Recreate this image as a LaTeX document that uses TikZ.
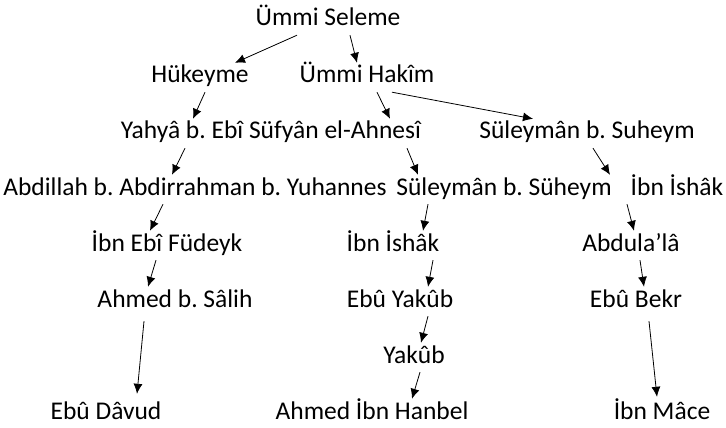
\documentclass[tikz,border=0pt]{standalone}
\usepackage{fontspec}
\setmainfont{Carlito}
\usetikzlibrary{arrows.meta}
\frenchspacing

\begin{document}
\begin{tikzpicture}[
x=1pt, y=-1pt,
narrator/.style={
		anchor=base,
		inner sep=3pt,
		text height=17pt,
		text depth=6pt,
		font=\fontsize{25.5}{30}\selectfont,
		},
link/.style={
		->, >={Latex[length=10pt,width=9pt]},
		line width=0.8pt,
		}
]
\useasboundingbox (0,0) rectangle (726,428);

\node[narrator] (sel) at (328,26) {Ümmi Seleme};

\node[narrator] (huk) at (200,83) {Hükeyme};
\node[narrator] (hak) at (367,83) {Ümmi Hakîm};

\node[narrator] (yah) at (271,139) {Yahyâ b. Ebî Süfyân el-Ahnesî};
\node[narrator] (sul1) at (587,139) {Süleymân b. Suheym};

\node[narrator] (abd) at (195,195) {Abdillah b. Abdirrahman b. Yuhannes};
\node[narrator] (sul2) at (504,195) {Süleymân b. Süheym};
\node[narrator] (ish1) at (677,195) {İbn İshâk};

\node[narrator] (fud) at (167,251) {İbn Ebî Füdeyk};
\node[narrator] (ish2) at (393,251) {İbn İshâk};
\node[narrator] (ala) at (631,251) {Abdula’lâ};

\node[narrator] (sal) at (175,307) {Ahmed b. Sâlih};
\node[narrator] (yak1) at (400,307) {Ebû Yakûb};
\node[narrator] (bek) at (636,307) {Ebû Bekr};

\node[narrator] (yak2) at (414,363) {Yakûb};

\node[narrator] (dav) at (106,419) {Ebû Dâvud};
\node[narrator] (han) at (372,419) {Ahmed İbn Hanbel};
\node[narrator] (mac) at (662,419) {İbn Mâce};

% links
\draw[link] ([xshift=-31pt]sel.south) -- ([xshift=35pt]huk.north);
\draw[link] ([xshift=22pt]sel.south) -- ([xshift=-10pt]hak.north);
\draw[link] ([xshift=5pt]huk.south) -- ([xshift=-78pt]yah.north);
\draw[link] ([xshift=10pt]hak.south) -- ([xshift=119pt]yah.north);
\draw[link] ([xshift=25pt]hak.south) -- ([xshift=-54pt]sul1.north);
\draw[link] ([xshift=-86pt]yah.south) -- ([xshift=-23pt]abd.north);
\draw[link] ([xshift=136pt]yah.south) -- ([xshift=-86pt]sul2.north);
\draw[link] ([xshift=6pt]sul1.south) -- ([xshift=-67pt]ish1.north);
\draw[link] ([xshift=-32pt]abd.south) -- ([xshift=-17pt]fud.north);
\draw[link] ([xshift=-76pt]sul2.south) -- ([xshift=30pt]ish2.north);
\draw[link] ([xshift=-50pt]ish1.south) -- ([xshift=3pt]ala.north);
\draw[link] ([xshift=-11pt]fud.south) -- ([xshift=-27pt]sal.north);
\draw[link] ([xshift=40pt]ish2.south) -- ([xshift=28pt]yak1.north);
\draw[link] ([xshift=9pt]ala.south) -- ([xshift=8pt]bek.north);
\draw[link] ([xshift=-31pt,yshift=-5pt]sal.south) -- ([xshift=31pt,yshift=5pt]dav.north);
\draw[link] ([xshift=28pt]yak1.south) -- ([xshift=7pt]yak2.north);
\draw[link] ([xshift=13pt,yshift=-5pt]bek.south) -- ([xshift=-5pt,yshift=2pt]mac.north);
\draw[link] ([xshift=6pt]yak2.south) -- ([xshift=40pt]han.north);

\end{tikzpicture}
\end{document}
